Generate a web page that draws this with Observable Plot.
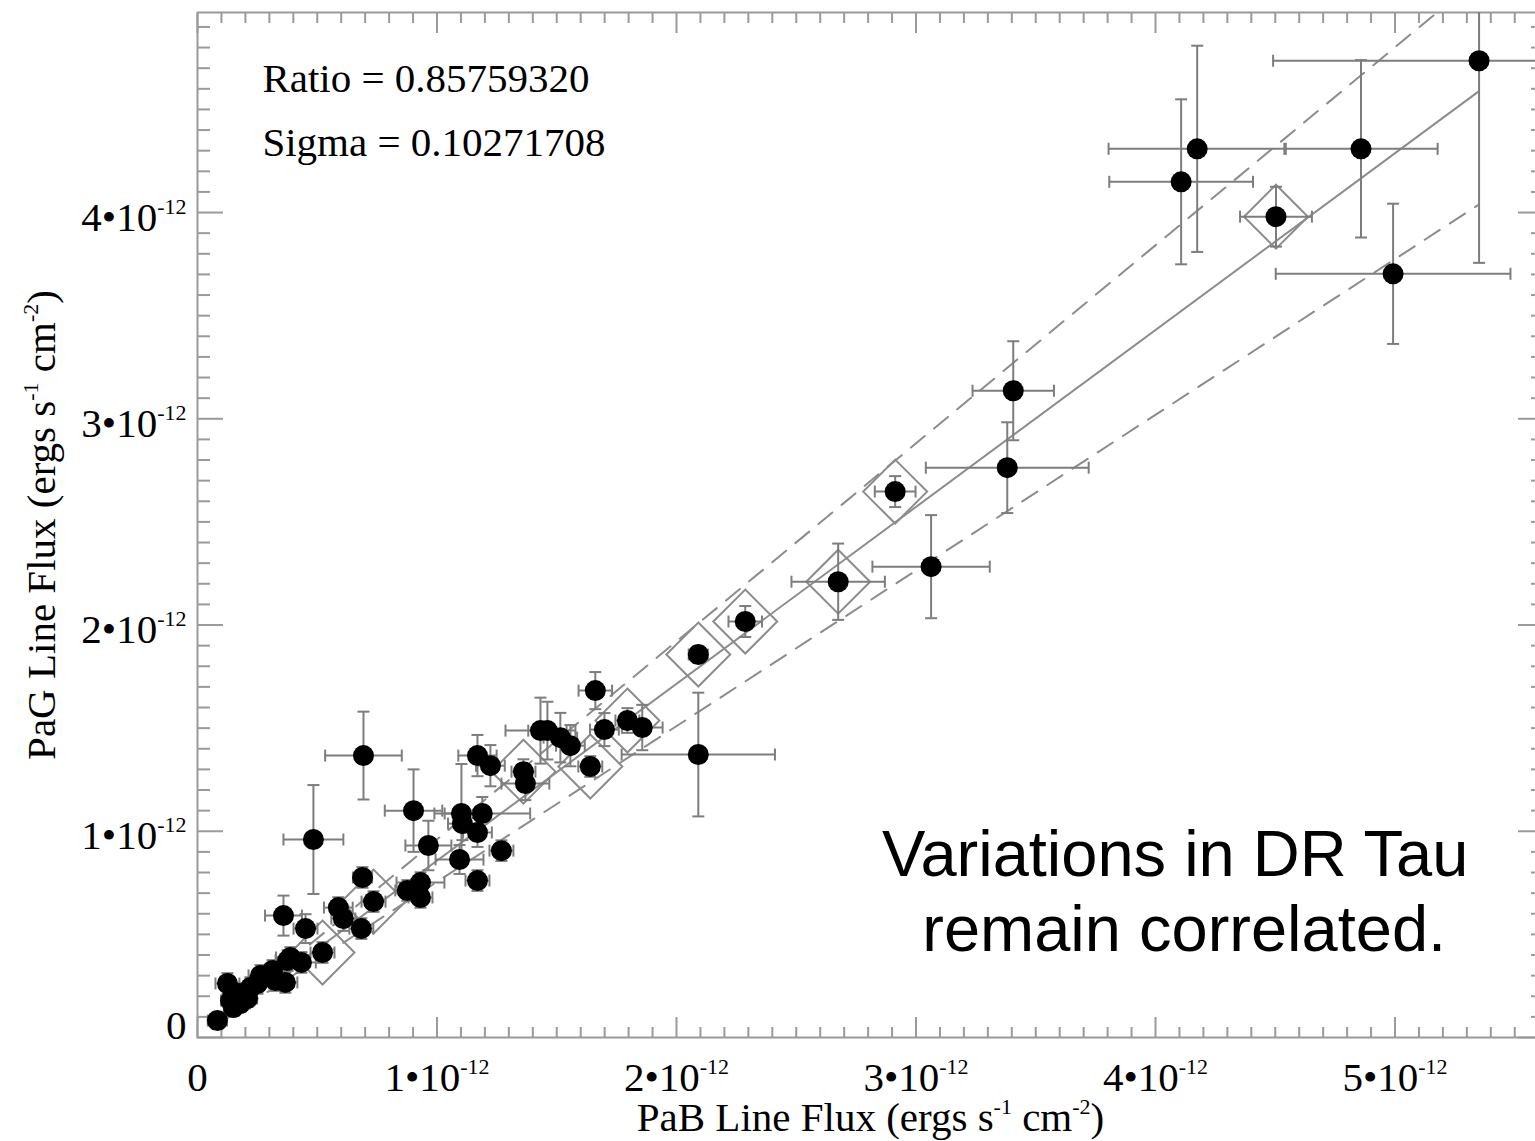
<!DOCTYPE html>
<html>
<head>
<meta charset="utf-8">
<script src="https://cdn.jsdelivr.net/npm/d3@7"></script>
<script src="https://cdn.jsdelivr.net/npm/@observablehq/plot@0.6"></script>
<style>
  html, body { margin: 0; padding: 0; background: #fff; overflow: hidden; }
  #chart svg { display: block; }
  #chart text, #chart tspan { white-space: pre; }
</style>
</head>
<body>
<div id="chart"></div>
<script>
// Line fluxes in units of 1e-12 ergs s^-1 cm^-2
const pabFlux = [5.351, 4.858, 4.174, 4.107, 4.503, 4.992, 3.406, 3.381, 2.913, 3.063,
  2.675, 2.287, 2.091, 2.091, 1.661, 1.699, 1.795, 1.857, 1.640, 1.432,
  1.461, 1.515, 1.557, 1.169, 1.223, 1.361, 1.369, 1.102, 1.106, 1.189,
  1.169, 0.902, 0.964, 1.094, 1.169, 1.269, 0.693, 0.484, 0.689, 0.735,
  0.684, 0.588, 0.609, 0.876, 0.931, 0.931, 0.359, 0.451, 0.522, 0.388,
  0.434, 0.376, 0.313, 0.263, 0.250, 0.326, 0.367, 0.221, 0.125, 0.171,
  0.138, 0.179, 0.150, 0.209, 0.083];
const pagFlux = [4.736, 4.309, 4.309, 4.149, 3.980, 3.703, 3.136, 2.763, 2.647, 2.283,
  2.210, 2.017, 1.857, 1.372, 1.682, 1.493, 1.537, 1.503, 1.314, 1.488,
  1.488, 1.454, 1.415, 1.367, 1.318, 1.289, 1.231, 1.086, 1.037, 1.086,
  0.994, 1.100, 0.931, 0.863, 0.761, 0.906, 1.367, 0.960, 0.776, 0.659,
  0.528, 0.630, 0.577, 0.713, 0.751, 0.679, 0.591, 0.528, 0.412, 0.388,
  0.364, 0.373, 0.325, 0.301, 0.262, 0.276, 0.267, 0.242, 0.262, 0.213,
  0.179, 0.165, 0.145, 0.189, 0.082];
const pabErr = [0.86, 0.32, 0.37, 0.30, 0.15, 0.49, 0.17, 0.34, 0.085, 0.245,
  0.195, 0.07, 0.04, 0.32, 0.07, 0.06, 0.05, 0.085, 0.05, 0.146,
  0.08, 0.07, 0.06, 0.08, 0.06, 0.05, 0.10, 0.07, 0.06, 0.20,
  0.06, 0.12, 0.096, 0.10, 0.05, 0.05, 0.16, 0.125, 0.04, 0.05,
  0.05, 0.06, 0.05, 0.05, 0.10, 0.05, 0.077, 0.05, 0.05, 0.06,
  0.06, 0.05, 0.05, 0.05, 0.05, 0.05, 0.05, 0.05, 0.05, 0.05,
  0.04, 0.04, 0.04, 0.04, 0.04];
const pagErr = [0.98, 0.43, 0.50, 0.40, 0.145, 0.34, 0.24, 0.22, 0.075, 0.25,
  0.185, 0.075, 0.04, 0.30, 0.09, 0.08, 0.06, 0.11, 0.05, 0.16,
  0.14, 0.12, 0.10, 0.10, 0.10, 0.06, 0.08, 0.24, 0.08, 0.08,
  0.07, 0.20, 0.12, 0.07, 0.05, 0.05, 0.213, 0.264, 0.05, 0.05,
  0.05, 0.05, 0.06, 0.05, 0.05, 0.05, 0.097, 0.07, 0.05, 0.05,
  0.05, 0.05, 0.05, 0.05, 0.05, 0.05, 0.05, 0.05, 0.05, 0.05,
  0.04, 0.04, 0.04, 0.04, 0.04];
// 1 = point is also enclosed by an open diamond
const hasDiamond = [0, 0, 0, 0, 1, 0, 0, 0, 1, 0,
  1, 1, 1, 0, 0, 0, 1, 0, 1, 0,
  0, 0, 0, 0, 0, 1, 0, 0, 0, 0,
  0, 0, 0, 0, 0, 0, 0, 0, 0, 1,
  0, 0, 0, 0, 0, 0, 0, 0, 1, 0,
  0, 0, 0, 0, 0, 0, 0, 0, 0, 0,
  0, 0, 0, 0, 0];

const ratio = 0.85759320;
const sigma = 0.10271708;

const xMajorTicks = [0, 1, 2, 3, 4, 5];
const yMajorTicks = [0, 1, 2, 3, 4];
function notInteger(v) { return Math.abs(v - Math.round(v)) > 1e-9; }
const xMinorTicks = d3.range(1, 57).map(i => i / 10).filter(notInteger);
const yMinorTicks = d3.range(1, 50).map(i => i / 10).filter(notInteger);

const xLabel = "PaB Line Flux (ergs s^{-1} cm^{-2})";
const yLabel = "PaG Line Flux (ergs s^{-1} cm^{-2})";
const noteLines = "Variations in DR Tau\n remain correlated.";
// annotation anchors (data units)
const statsPos = {x: 0.271, y1: 4.646, y2: 4.340};
const notePos = {x: 4.082, y: 0.717};

const data = pabFlux.map((x, i) => ({x, y: pagFlux[i], xe: pabErr[i], ye: pagErr[i], d: hasDiamond[i]}));
const [xmin, xmax] = d3.extent(pabFlux);
const fitLine = [xmin, xmax].map(x => ({x, y: ratio * x}));
const bandLines = [
  {k: "hi", r: ratio + sigma},
  {k: "lo", r: ratio - sigma}
].flatMap(f => [xmin, xmax].map(x => ({k: f.k, x, y: f.r * x})));

const capH = {draw(ctx, size) { const r = Math.sqrt(size / Math.PI); ctx.moveTo(-r, 0); ctx.lineTo(r, 0); }};
const capV = {draw(ctx, size) { const r = Math.sqrt(size / Math.PI); ctx.moveTo(0, -r); ctx.lineTo(0, r); }};
const yCaps = data.flatMap(d => [{x: d.x, y: d.y - d.ye}, {x: d.x, y: d.y + d.ye}]);
const xCaps = data.flatMap(d => [{x: d.x - d.xe, y: d.y}, {x: d.x + d.xe, y: d.y}]);

const serif = "Liberation Serif, Times New Roman, serif";
const tickFmt = d => d === 0 ? "0" : `${d}•10^{-12}`;
const axisGray = "#9a9a9a";
const errGray = "#7d7d7d";
const lineGray = "#8c8c8c";

const tickAxis = (fn, ticks, anchor, size) => fn(ticks, {anchor, tickSize: -size, fill: "none", stroke: axisGray, strokeWidth: 2, label: null});

const plot = Plot.plot({
  width: 1535,
  height: 1141,
  marginLeft: 197,
  marginRight: -8,
  marginTop: 12,
  marginBottom: 104,
  x: {domain: [0, 5.62]},
  y: {domain: [0, 4.97]},
  marks: [
    Plot.frame({stroke: axisGray, strokeWidth: 2}),
    tickAxis(Plot.axisX, xMinorTicks, "bottom", 10),
    tickAxis(Plot.axisX, xMajorTicks, "bottom", 20),
    tickAxis(Plot.axisX, xMinorTicks, "top", 10),
    tickAxis(Plot.axisX, xMajorTicks, "top", 20),
    tickAxis(Plot.axisY, yMinorTicks, "left", 13),
    tickAxis(Plot.axisY, yMajorTicks, "left", 26),
    tickAxis(Plot.axisY, yMinorTicks, "right", 13),
    tickAxis(Plot.axisY, yMajorTicks, "right", 26),
    Plot.axisX(xMajorTicks, {anchor: "bottom", tickSize: 0, tickPadding: 24, tickFormat: tickFmt,
      fontSize: 41, fontFamily: serif, fill: "black",
      label: xLabel, labelAnchor: "center", labelOffset: 93, labelArrow: "none"}),
    Plot.axisY(yMajorTicks, {anchor: "left", tickSize: 0, tickPadding: 11, tickFormat: tickFmt,
      fontSize: 41, fontFamily: serif, fill: "black", dy: 5,
      label: yLabel, labelAnchor: "center", labelOffset: 172, labelArrow: "none"}),
    Plot.dot(data.filter(d => d.d), {x: "x", y: "y", symbol: "diamond2", r: 28.8, stroke: lineGray, strokeWidth: 2, fill: "none"}),
    Plot.line(fitLine, {x: "x", y: "y", stroke: lineGray, strokeWidth: 2, clip: true}),
    Plot.line(bandLines, {x: "x", y: "y", z: "k", stroke: lineGray, strokeWidth: 2,
      strokeDasharray: "18,12", clip: true}),
    Plot.ruleX(data, {x: "x", y1: d => d.y - d.ye, y2: d => d.y + d.ye, stroke: errGray, strokeWidth: 2, clip: true}),
    Plot.ruleY(data, {y: "y", x1: d => d.x - d.xe, x2: d => d.x + d.xe, stroke: errGray, strokeWidth: 2, clip: true}),
    Plot.dot(yCaps, {x: "x", y: "y", symbol: capH, r: 6, stroke: errGray, strokeWidth: 2, fill: "none", clip: true}),
    Plot.dot(xCaps, {x: "x", y: "y", symbol: capV, r: 6, stroke: errGray, strokeWidth: 2, fill: "none", clip: true}),
    Plot.dot(data, {x: "x", y: "y", r: 10.5, fill: "black", stroke: "none"}),
    Plot.text([`Ratio = ${ratio.toFixed(8)}`, `Sigma = ${sigma.toFixed(8)}`], {
      x: () => statsPos.x, y: (d, i) => i === 0 ? statsPos.y1 : statsPos.y2, text: d => d,
      textAnchor: "start", fontSize: 41, fontFamily: serif, fill: "black"}),
    Plot.text([noteLines], {x: () => notePos.x, y: () => notePos.y, text: d => d,
      textAnchor: "middle", lineAnchor: "middle", lineHeight: 75 / 65,
      fontSize: 65, fontFamily: "Liberation Sans, Arial, sans-serif", fill: "black"})
  ]
});

// render ^{...} as superscripts
function supify(el) {
  const s = el.textContent;
  if (!s.includes("^{")) return;
  const parts = s.split(/\^\{([^}]*)\}/);
  while (el.firstChild) el.removeChild(el.firstChild);
  const ns = "http://www.w3.org/2000/svg";
  let raised = false;
  parts.forEach((p, i) => {
    if (p === "") { return; }
    const t = document.createElementNS(ns, "tspan");
    if (i % 2 === 1) {
      t.setAttribute("font-size", "22");
      t.setAttribute("dy", "-17");
      raised = true;
    } else if (raised) {
      t.setAttribute("dy", "17");
      raised = false;
    }
    t.textContent = p;
    el.appendChild(t);
  });
}
plot.querySelectorAll("text").forEach(supify);
plot.querySelectorAll('g[aria-label="y-axis tick label"] text').forEach(t => {
  if (t.textContent === "0") {
    const tr = t.getAttribute("transform") || "";
    t.setAttribute("transform", tr + " translate(0,-17)");
  }
});
document.getElementById("chart").appendChild(plot);
</script>
</body>
</html>
